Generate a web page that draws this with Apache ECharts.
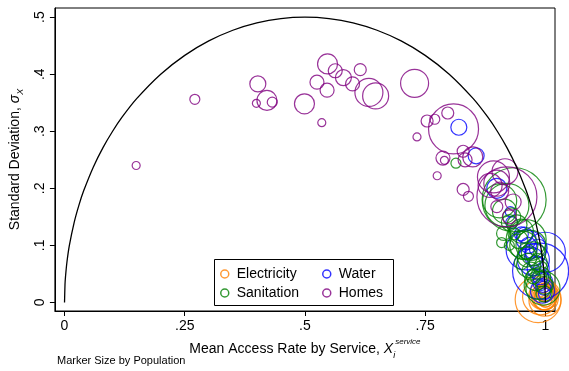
<!DOCTYPE html>
<html><head><meta charset="utf-8">
<script src="https://cdn.jsdelivr.net/npm/echarts@6/dist/echarts.min.js"></script>
<style>html,body{margin:0;padding:0;background:#fff}#c{width:569px;height:371px}</style>
</head><body><div id="c"></div>
<script>
// Theoretical maximum curve (sd of a 0/1 variable), sampled points
const curveX = [0,0.001,0.002,0.005,0.01,0.02,0.03,0.04,0.06,0.08,0.1,0.12,0.15,0.2,0.25,0.3,0.35,0.4,0.45,0.5,0.55,0.6,0.65,0.7,0.75,0.8,0.85,0.88,0.9,0.92,0.94,0.96,0.97,0.98,0.99,0.995,0.998,0.999,1];
const curveY = [0,0.0316,0.0447,0.0705,0.0995,0.14,0.1706,0.196,0.2375,0.2713,0.3,0.325,0.3571,0.4,0.433,0.4583,0.477,0.4899,0.4975,0.5,0.4975,0.4899,0.477,0.4583,0.433,0.4,0.3571,0.325,0.3,0.2713,0.2375,0.196,0.1706,0.14,0.0995,0.0705,0.0447,0.0316,0];

// Electricity
const elecMean = [0.985,0.990,0.995,0.998,1.000,0.997,0.999,1.000,0.998,0.996,1.000,0.999,0.998,0.999];
const elecSD   = [0.005,0.010,0.012,0.008,0.010,0.012,0.015,0.002,0.020,0.025,0.018,0.006,0.010,0.004];
const elecPop  = [529,324,196,144,100,100,64,36,49,25,81,121,169,256];

// Water
const waterMean = [0.820,0.856,0.899,0.927,0.930,0.960,1.000,0.990,0.975,0.960,0.965,0.970,0.975,0.980,0.985,0.990,0.995,0.997,0.998,0.994,0.950,0.957,0.985,0.992];
const waterSD   = [0.307,0.257,0.200,0.159,0.140,0.092,0.088,0.055,0.075,0.110,0.100,0.088,0.080,0.070,0.060,0.045,0.035,0.025,0.015,0.020,0.120,0.118,0.095,0.030];
const waterPop  = [64,64,100,25,36,400,400,784,256,100,64,36,81,49,121,64,100,49,36,144,49,64,81,25];

// Sanitation
const sanMean = [0.814,0.935,0.920,0.905,0.915,0.930,0.913,0.909,0.941,0.950,0.945,0.955,0.960,0.962,0.950,0.965,0.970,0.975,0.980,0.985,0.995,0.998,0.960,0.970,0.975,0.985,0.990,0.935,0.925,0.925,0.990,0.997];
const sanSD   = [0.244,0.180,0.170,0.178,0.160,0.150,0.121,0.105,0.136,0.125,0.110,0.100,0.090,0.080,0.070,0.065,0.055,0.045,0.040,0.030,0.025,0.030,0.110,0.100,0.085,0.070,0.060,0.120,0.140,0.100,0.045,0.015];
const sanPop  = [25,1024,484,289,144,81,49,25,100,144,81,196,64,100,49,144,81,49,121,196,289,81,400,225,144,81,49,36,64,25,100,64];

// Homes
const homeMean = [0.149,0.271,0.402,0.421,0.399,0.432,0.499,0.547,0.563,0.580,0.615,0.525,0.546,0.599,0.633,0.647,0.535,0.728,0.754,0.770,0.809,0.797,0.733,0.787,0.790,0.829,0.833,0.849,0.775,0.829,0.840,0.892,0.916,0.899,0.933,0.899,0.920,0.905,0.885,0.925];
const homeSD   = [0.240,0.356,0.383,0.354,0.349,0.351,0.348,0.418,0.406,0.394,0.408,0.386,0.372,0.383,0.368,0.362,0.315,0.384,0.318,0.321,0.304,0.332,0.290,0.253,0.249,0.265,0.250,0.255,0.222,0.198,0.186,0.220,0.229,0.209,0.176,0.168,0.185,0.195,0.205,0.150];
const homePop  = [16,25,64,100,16,25,100,100,49,64,36,49,49,49,196,169,16,196,36,25,625,36,16,49,16,36,49,100,16,36,25,256,169,169,64,36,900,81,144,49];

const xTicks = [0,0.25,0.5,0.75,1];
const xTickLabels = ['0','.25','.5','.75','1'];
const yTicks = [0,0.1,0.2,0.3,0.4,0.5];
const yTickLabels = ['0','.1','.2','.3','.4','.5'];

const colors = {Electricity:'#FF7F00', Water:'#0000FF', Sanitation:'#008000', Homes:'#800080'};
const FONT = 'Liberation Sans, Arial, sans-serif';

function pts(xs, ys, ps){ return xs.map((x,i)=>[x, ys[i], ps[i]]); }
function scat(name, xs, ys, ps){
  return {
    name, type:'scatter', symbol:'circle',
    data: pts(xs,ys,ps),
    symbolSize: v => 2*Math.sqrt(v[2]),
    itemStyle:{color:'rgba(0,0,0,0)', borderColor:colors[name], borderWidth:1.2},
    emphasis:{disabled:true}, z:2
  };
}
function fmt(list, labels){ return v => { const i = list.findIndex(t=>Math.abs(t-v)<1e-9); return i>=0?labels[i]:''; }; }

const chart = echarts.init(document.getElementById('c'), null, {renderer:'canvas'});
chart.setOption({
  animation:false,
  backgroundColor:'#fff',
  textStyle:{fontFamily:FONT},
  grid:{left:53, right:14, top:8, bottom:60, show:true, borderColor:'#000', borderWidth:1, backgroundColor:'#fff'},
  xAxis:{
    type:'value', min:-0.02, max:1.02,
    axisLine:{onZero:false, lineStyle:{color:'#000', width:1}},
    splitLine:{show:false},
    axisTick:{customValues:xTicks, length:5, lineStyle:{color:'#000'}},
    axisLabel:{customValues:xTicks, formatter:fmt(xTicks,xTickLabels), color:'#000', fontSize:14, margin:8, fontFamily:FONT},
    name:'{t|Mean Access Rate by Service, }{x|X}{sub|i}{sup|service}',
    nameLocation:'middle', nameGap:18,
    nameTextStyle:{
      color:'#000', fontFamily:FONT,
      rich:{
        t:{fontSize:14, color:'#000', lineHeight:22, fontFamily:FONT},
        x:{fontSize:14, color:'#000', fontStyle:'italic', lineHeight:22, fontFamily:FONT},
        sub:{fontSize:9, color:'#000', fontStyle:'italic', verticalAlign:'bottom', lineHeight:22, fontFamily:FONT},
        sup:{fontSize:8, color:'#000', fontStyle:'italic', verticalAlign:'top', lineHeight:22, fontFamily:FONT}
      }
    }
  },
  yAxis:{
    type:'value', min:-0.015, max:0.516,
    axisLine:{onZero:false, lineStyle:{color:'#000', width:1}},
    splitLine:{show:false},
    axisTick:{customValues:yTicks, length:5, lineStyle:{color:'#000'}},
    axisLabel:{customValues:yTicks, formatter:fmt(yTicks,yTickLabels), color:'#000', fontSize:14, margin:8, rotate:90, fontFamily:FONT},
    name:'{t|Standard Deviation, }{s|σ}{sub|X}',
    nameLocation:'middle', nameGap:20, nameRotate:90,
    nameTextStyle:{
      color:'#000', fontFamily:FONT,
      rich:{
        t:{fontSize:14, color:'#000', lineHeight:20, fontFamily:FONT},
        s:{fontSize:14, color:'#000', fontStyle:'italic', lineHeight:20, fontFamily:FONT},
        sub:{fontSize:9, color:'#000', fontStyle:'italic', verticalAlign:'bottom', lineHeight:20, fontFamily:FONT}
      }
    }
  },
  legend:[
    {data:[{name:'Electricity', itemStyle:{color:'#fff', borderColor:colors.Electricity, borderWidth:1.5}},
           {name:'Sanitation', itemStyle:{color:'#fff', borderColor:colors.Sanitation, borderWidth:1.5}}],
     orient:'vertical', left:220, top:267, itemWidth:8, itemHeight:8, itemGap:5, padding:0, icon:'circle', z:10,
     textStyle:{fontSize:14, color:'#000', fontFamily:FONT, padding:[0,0,0,3]}, selectedMode:false},
    {data:[{name:'Water', itemStyle:{color:'#fff', borderColor:colors.Water, borderWidth:1.5}},
           {name:'Homes', itemStyle:{color:'#fff', borderColor:colors.Homes, borderWidth:1.5}}],
     orient:'vertical', left:322, top:267, itemWidth:8, itemHeight:8, itemGap:5, padding:0, icon:'circle', z:10,
     textStyle:{fontSize:14, color:'#000', fontFamily:FONT, padding:[0,0,0,3]}, selectedMode:false}
  ],
  graphic:[
    {type:'rect', left:214, top:259, z:3, shape:{width:179, height:46}, style:{fill:'#fff', stroke:'#000', lineWidth:1}},
    {type:'text', left:57, top:355, style:{text:'Marker Size by Population', fontSize:11, fill:'#000', fontFamily:FONT}}
  ],
  series:[
    scat('Electricity', elecMean, elecSD, elecPop),
    scat('Water', waterMean, waterSD, waterPop),
    scat('Sanitation', sanMean, sanSD, sanPop),
    scat('Homes', homeMean, homeSD, homePop),
    {name:'curve', type:'line', data:curveX.map((x,i)=>[x,curveY[i]]), showSymbol:false, symbol:'none',
     lineStyle:{color:'#000', width:1.3}, smooth:0.2, z:3, emphasis:{disabled:true}, silent:true}
  ]
});
</script></body></html>
